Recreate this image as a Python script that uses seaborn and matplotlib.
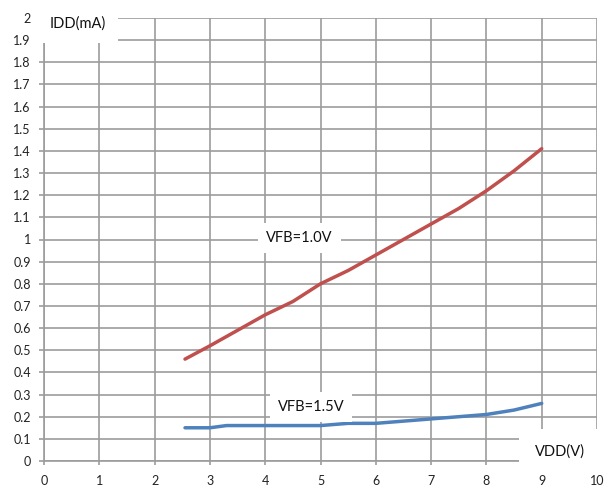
import matplotlib
matplotlib.use("Agg")
import matplotlib.pyplot as plt
import seaborn as sns
import pandas as pd

# Supply current vs. supply voltage for two feedback voltages
vdd_10 = [2.55, 3.0, 3.5, 4.0, 4.5, 5.0, 5.5, 6.0, 6.5, 7.0, 7.5, 8.0, 8.5, 9.0]
idd_10 = [0.46, 0.52, 0.59, 0.66, 0.72, 0.80, 0.86, 0.93, 1.00, 1.07, 1.14, 1.22, 1.31, 1.41]

vdd_15 = [2.55, 3.0, 3.3, 4.0, 5.0, 5.5, 6.0, 7.0, 8.0, 8.5, 9.0]
idd_15 = [0.15, 0.15, 0.16, 0.16, 0.16, 0.17, 0.17, 0.19, 0.21, 0.23, 0.26]

x_ticks = list(range(0, 11))
y_ticks = [round(i * 0.1, 1) for i in range(0, 21)]
y_tick_labels = [f"{v:g}" for v in y_ticks]

series_labels = ["VFB=1.0V", "VFB=1.5V"]
x_title = "VDD(V)"
y_title = "IDD(mA)"

df = pd.concat([
    pd.DataFrame({"VDD": vdd_10, "IDD": idd_10, "curve": series_labels[0]}),
    pd.DataFrame({"VDD": vdd_15, "IDD": idd_15, "curve": series_labels[1]}),
])

sns.set_theme(style="white")
plt.rcParams["font.family"] = ["Lato", "DejaVu Sans"]

W, H = 612, 488
fig = plt.figure(figsize=(W / 100, H / 100), dpi=100)
ax = fig.add_axes([44 / W, (H - 461) / H, 553 / W, 443 / H])

grid_c = "#9c9c9c"

sns.lineplot(data=df, x="VDD", y="IDD", hue="curve",
             palette={series_labels[0]: "#C0504D", series_labels[1]: "#4F81BD"},
             linewidth=2.5, legend=False, ax=ax, zorder=3, sort=False)

ax.set_xlim(0, 10)
ax.set_ylim(0, 2)
ax.set_xticks(x_ticks)
ax.set_yticks(y_ticks)
ax.set_xticklabels([str(v) for v in x_ticks])
ax.set_yticklabels(y_tick_labels)
ax.set_xlabel("")
ax.set_ylabel("")

ax.set_axisbelow(True)
ax.grid(True, color=grid_c, linewidth=1.2)
for side in ["top", "right"]:
    ax.spines[side].set_visible(False)
for side in ["left", "bottom"]:
    ax.spines[side].set_color(grid_c)
    ax.spines[side].set_linewidth(1.2)

ax.tick_params(axis="both", which="both", direction="out", width=1.2,
               color=grid_c, labelsize=9, labelcolor="#222222")
ax.tick_params(axis="x", length=3, pad=7, bottom=True)
ax.tick_params(axis="y", length=3.5, pad=6, left=True)

# axis titles sit on white boxes over the grid
ax.text(78 / W, 1 - 24 / H, y_title, transform=fig.transFigure, ha="center", va="center",
        fontsize=10.5, color="#111111", zorder=6,
        bbox=dict(facecolor="white", edgecolor="none", boxstyle="square,pad=0.8"))
ax.text(560 / W, 1 - 452 / H, x_title, transform=fig.transFigure, ha="center", va="center",
        fontsize=10.5, color="#111111", zorder=6, clip_on=False,
        bbox=dict(facecolor="white", edgecolor="none", boxstyle="square,pad=1.1"))

# series labels
ax.text(4.62, 1.005, series_labels[0], ha="center", va="center", fontsize=10.5,
        color="#111111", zorder=5,
        bbox=dict(facecolor="white", edgecolor="none", boxstyle="square,pad=0.55"))
ax.text(4.83, 0.245, series_labels[1], ha="center", va="center", fontsize=10.5,
        color="#111111", zorder=5,
        bbox=dict(facecolor="white", edgecolor="none", boxstyle="square,pad=0.55"))

fig.savefig("out.png", dpi=100, facecolor="white")
